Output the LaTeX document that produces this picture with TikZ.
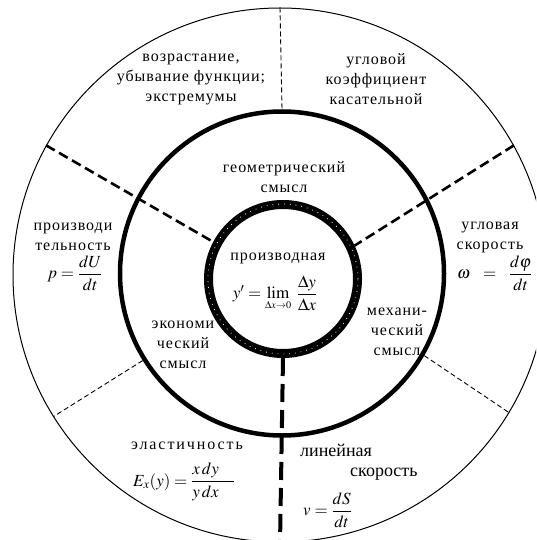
\documentclass[tikz,border=0pt]{standalone}
\usepackage{amsmath}
\usepackage{mathptmx}
\usepackage{fontspec}
\setmainfont{Liberation Serif}
\begin{document}
\begin{tikzpicture}[x=1pt,y=-1pt,
  lbl/.style={align=center, font=\fontsize{16}{20}\selectfont\addfontfeatures{LetterSpace=6}, inner sep=0pt},
  wide/.style={align=center, font=\fontsize{16}{20}\selectfont\addfontfeatures{LetterSpace=12}, inner sep=0pt},
  big/.style={align=left, font=\fontsize{18}{22}\selectfont, inner sep=0pt},
  frm/.style={font=\fontsize{17}{20}\selectfont, inner sep=0pt},
  ring/.style={circle, inner sep=0pt, draw},
  thindash/.style={line width=0.9pt, dash pattern=on 5pt off 3pt},
  thickdash/.style={line width=2.6pt, dash pattern=on 10pt off 5pt},
  heavydash/.style={line width=4pt, dash pattern=on 18pt off 8pt}]
\useasboundingbox (0,0) rectangle (536,540);
\fill[white] (0,0) rectangle (536,540);
\clip (0,0) rectangle (536,540);
% circles
\node[ring, line width=1pt, minimum size=534pt] (outer) at (280,275) {};
\node[ring, line width=4.5pt, minimum size=324pt] (middle) at (282,273.5) {};
\node[ring, line width=9pt, minimum size=149pt] (inner) at (283,279) {};
\draw[white, line width=0.8pt, dash pattern=on 0.8pt off 5pt] (inner.center) circle[radius=75pt];
\coordinate (bot) at (280,545);
% dividers
\draw[thindash] (outer.90) -- (middle.90);
\draw[thickdash] (outer.151) -- (inner.152);
\draw[thickdash] (outer.29) -- (inner.25);
\draw[thindash] (middle.212) -- (outer.212);
\draw[thindash] (middle.330) -- (outer.329);
\draw[heavydash] (inner.270) -- (bot);
% texts
\node[lbl] (t1) at (191,79) {возрастание,\\убывание функции;\\экстремумы};
\node[lbl] (t2) at (376,79) {угловой\\коэффициент\\касательной};
\node[lbl] (t3) at (284,177) {геометрический\\смысл};
\node[lbl] (t4) at (278,258) {производная};
\node[frm] (t5) at (275,293) {$y'=\lim\limits_{\scriptscriptstyle\Delta x\to 0}\;\dfrac{\Delta y}{\Delta x}$};
\node[lbl] (t6) at (73,237) {производи\\тельность};
\node[frm] (t7) at (75,273) {$p=\dfrac{dU}{dt}$};
\node[lbl] (t8) at (490,237) {угловая\\скорость};
\node[frm, anchor=west] (t9) at (457,273) {$\omega\hspace{9pt}=\hspace{9pt}\dfrac{d\varphi}{dt}$};
\node[lbl] (t10) at (397,332) {механи-\\ческий\\смысл};
\node[lbl] (t11) at (183,345) {экономи\\ческий\\смысл};
\node[wide] (t12) at (187,446) {эластичность};
\node[frm, anchor=west] (t13) at (133,482) {$E_x(y)=\dfrac{x\,dy\hphantom{xx}}{y\,dx\hphantom{xx}}$};
\node[big, anchor=west] (t14) at (300,450) {линейная};
\node[big, anchor=west] (t15) at (350,474) {скорость};
\node[frm, anchor=west] (t16) at (303,510) {$v=\dfrac{dS}{dt}$};
\end{tikzpicture}
\end{document}
